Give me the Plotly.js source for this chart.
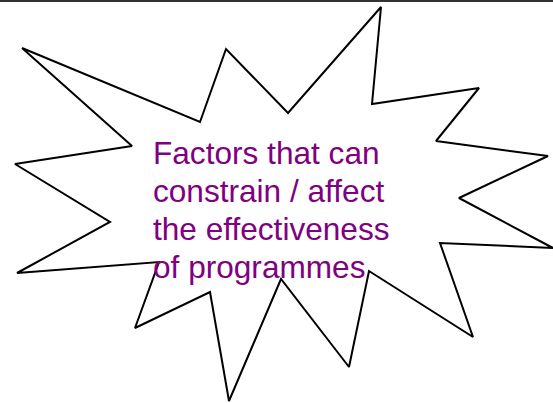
<!DOCTYPE html>
<html>
<head>
<meta charset="utf-8">
<script src="https://cdn.plot.ly/plotly-3.0.1.min.js"></script>
<style>html,body{margin:0;padding:0;background:#fff;}#chart{width:553px;height:403px;}</style>
</head>
<body>
<div id="chart"></div>
<script>
// Starburst outline vertices (pixel-space data, y downward)
var starX = [22, 200, 226, 288, 381, 372, 479, 436, 548, 459, 553, 440, 473, 369, 349, 281, 229, 210, 135, 159, 17, 110, 15, 132, 22];
var starY = [48, 122, 49, 113, 7, 104, 88, 141, 156, 198, 248, 243, 337, 271, 367, 279, 401, 292, 328, 262, 273, 222, 164, 146, 48];
var labelLines = ["Factors that can", "constrain / affect", "the effectiveness", "of programmes"];
var labelBaselines = [163, 201, 239, 277];

var trace = {
  x: starX, y: starY, type: 'scatter', mode: 'lines',
  line: {color: '#000000', width: 2, shape: 'linear'},
  hoverinfo: 'skip', showlegend: false
};

var annotations = labelLines.map(function (t, i) {
  return {
    x: 151, y: labelBaselines[i] - 30, xref: 'x', yref: 'y', xanchor: 'left', yanchor: 'top', align: 'left',
    showarrow: false, text: t,
    font: {family: 'Liberation Sans, Arial, sans-serif', size: 31.6, color: '#800080'}
  };
});

var layout = {
  width: 553, height: 403,
  margin: {l: 0, r: 0, t: 0, b: 0},
  paper_bgcolor: '#ffffff', plot_bgcolor: '#ffffff',
  xaxis: {range: [0, 553], visible: false, fixedrange: true},
  yaxis: {range: [403, 0], visible: false, fixedrange: true},
  showlegend: false,
  shapes: [{type: 'line', xref: 'paper', yref: 'paper', x0: 0, x1: 1, y0: 0.9975, y1: 0.9975,
            line: {color: '#333333', width: 2}}],
  annotations: annotations
};

Plotly.newPlot('chart', [trace], layout, {displayModeBar: false, staticPlot: true});
</script>
</body>
</html>
